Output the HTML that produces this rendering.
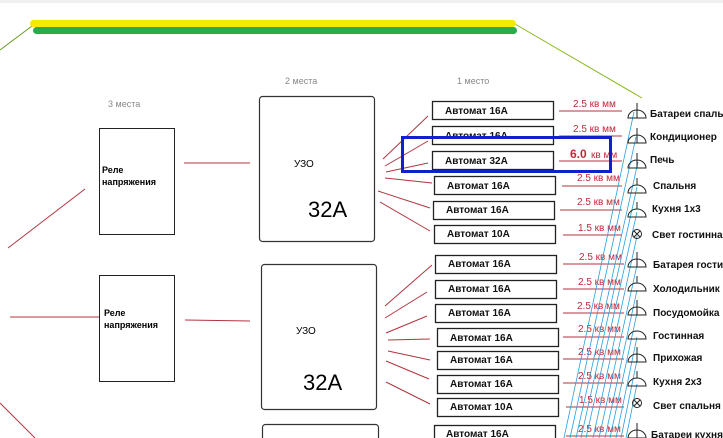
<!DOCTYPE html>
<html><head><meta charset="utf-8"><style>
body{margin:0;background:#fff;}
svg{display:block;font-family:"Liberation Sans","DejaVu Sans",sans-serif;}
.ab{fill:#fff;stroke:#222;stroke-width:1.3}
.at{font-size:10px;font-weight:bold;fill:#111}
.rl{stroke:#b0353f;stroke-width:1;fill:none}
.rt{font-size:10px;fill:#c0283a}
.lb{font-size:10px;font-weight:bold;fill:#111}
.bl{stroke:#2a9fd8;stroke-width:0.8}
.ic{fill:none;stroke:#222;stroke-width:1}
</style></head><body>
<svg width="723" height="438" viewBox="0 0 723 438">
<rect x="0" y="0" width="723" height="3" fill="#eef0f2"/>
<line x1="32" y1="26" x2="0" y2="50" stroke="#6a9a20" stroke-width="1"/>
<line x1="515" y1="24" x2="642" y2="98" stroke="#8ab820" stroke-width="1"/>
<rect x="30" y="20" width="486" height="7" rx="3.5" fill="#f5ea00"/>
<rect x="33" y="27" width="484" height="7" rx="3.5" fill="#2aaa48"/>
<text x="108" y="107" font-size="9" fill="#888">3 места</text>
<text x="285" y="84" font-size="9" fill="#888">2 места</text>
<text x="457" y="84" font-size="9" fill="#888">1 место</text>
<!-- relay boxes -->
<rect x="99.5" y="128.5" width="75" height="106" fill="#fff" stroke="#222"/>
<text x="102" y="173" font-size="9" font-weight="bold">Реле</text>
<text x="102" y="185" font-size="9" font-weight="bold">напряжения</text>
<rect x="99.5" y="275.5" width="75" height="106" fill="#fff" stroke="#222"/>
<text x="104" y="316" font-size="9" font-weight="bold">Реле</text>
<text x="104" y="328" font-size="9" font-weight="bold">напряжения</text>
<!-- UZO -->
<rect x="259.5" y="96.5" width="115" height="145" rx="3" fill="#fff" stroke="#333" stroke-width="1.2"/>
<text x="294" y="167" font-size="10">УЗО</text>
<text x="308" y="217" font-size="22">32A</text>
<rect x="261.5" y="264.5" width="115" height="145" rx="3" fill="#fff" stroke="#333" stroke-width="1.2"/>
<text x="296" y="334" font-size="10">УЗО</text>
<text x="303" y="390" font-size="22">32A</text>
<rect x="262.5" y="424.5" width="116" height="30" rx="3" fill="#fff" stroke="#333" stroke-width="1.2"/>
<!-- red lines left -->
<line class="rl" x1="85" y1="189" x2="8" y2="248"/>
<line class="rl" x1="184" y1="163" x2="250" y2="163"/>
<line class="rl" x1="10" y1="317" x2="99" y2="317"/>
<line class="rl" x1="185" y1="320" x2="250" y2="321"/>
<line class="rl" x1="0" y1="403" x2="35" y2="438"/>
<!-- fan lines -->
<line class="rl" x1="383" y1="159" x2="428" y2="116"/>
<line class="rl" x1="385" y1="166" x2="428" y2="141"/>
<line class="rl" x1="386" y1="172" x2="428" y2="163"/>
<line class="rl" x1="385" y1="178" x2="432" y2="183"/>
<line class="rl" x1="378" y1="191" x2="430" y2="208"/>
<line class="rl" x1="380" y1="202" x2="430" y2="231"/>
<line class="rl" x1="385" y1="306" x2="432" y2="265"/>
<line class="rl" x1="385" y1="318" x2="427" y2="292"/>
<line class="rl" x1="386" y1="333" x2="427" y2="316"/>
<line class="rl" x1="388" y1="340" x2="430" y2="339"/>
<line class="rl" x1="388" y1="351" x2="430" y2="360"/>
<line class="rl" x1="386" y1="361" x2="429" y2="379"/>
<line class="rl" x1="386" y1="382" x2="430" y2="404"/>
<!-- automats -->
<g>
<rect class="ab" x="432.5" y="101.5" width="121" height="18"/><text class="at" x="445" y="114">Автомат 16А</text>
<rect class="ab" x="432.5" y="126.5" width="121" height="18"/><text class="at" x="445" y="139">Автомат 16А</text>
<rect class="ab" x="432.5" y="151.5" width="121" height="18"/><text class="at" x="445" y="164">Автомат 32А</text>
<rect class="ab" x="434.5" y="176.5" width="121" height="18"/><text class="at" x="447" y="189">Автомат 16А</text>
<rect class="ab" x="433.5" y="201.5" width="121" height="18"/><text class="at" x="446" y="213">Автомат 16А</text>
<rect class="ab" x="434.5" y="225.5" width="121" height="18"/><text class="at" x="447" y="237">Автомат 10А</text>
<rect class="ab" x="435.5" y="255.5" width="121" height="18"/><text class="at" x="448" y="267">Автомат 16А</text>
<rect class="ab" x="435.5" y="280.5" width="121" height="18"/><text class="at" x="448" y="292">Автомат 16А</text>
<rect class="ab" x="435.5" y="304.5" width="121" height="18"/><text class="at" x="448" y="316">Автомат 16А</text>
<rect class="ab" x="437.5" y="328.5" width="121" height="18"/><text class="at" x="450" y="341">Автомат 16А</text>
<rect class="ab" x="437.5" y="351.5" width="121" height="18"/><text class="at" x="450" y="363">Автомат 16А</text>
<rect class="ab" x="437.5" y="375.5" width="121" height="18"/><text class="at" x="450" y="387">Автомат 16А</text>
<rect class="ab" x="437.5" y="398.5" width="121" height="18"/><text class="at" x="450" y="410">Автомат 10А</text>
<rect class="ab" x="434.5" y="425.5" width="121" height="18"/><text class="at" x="446" y="437">Автомат 16А</text>
</g>
<!-- wires red -->
<g>
<line class="rl" x1="559" y1="111" x2="622" y2="111"/><text class="rt" x="573" y="107">2.5 кв мм</text>
<line class="rl" x1="559" y1="136" x2="622" y2="136"/><text class="rt" x="573" y="132">2.5 кв мм</text>
<line class="rl" x1="559" y1="161" x2="622" y2="161"/><text x="570" y="158" font-size="12" fill="#c0283a" font-weight="bold">6.0</text><text class="rt" x="591" y="158" font-size="9">кв мм</text>
<line class="rl" x1="562" y1="186" x2="622" y2="186"/><text class="rt" x="577" y="181">2.5 кв мм</text>
<line class="rl" x1="560" y1="210" x2="622" y2="210"/><text class="rt" x="577" y="205">2.5 кв мм</text>
<line class="rl" x1="563" y1="235" x2="622" y2="235"/><text class="rt" x="578" y="231">1.5 кв мм</text>
<line class="rl" x1="563" y1="264" x2="624" y2="264"/><text class="rt" x="579" y="260">2.5 кв мм</text>
<line class="rl" x1="563" y1="289" x2="624" y2="289"/><text class="rt" x="578" y="285">2.5 кв мм</text>
<line class="rl" x1="563" y1="313" x2="624" y2="313"/><text class="rt" x="577" y="309">2.5 кв мм</text>
<line class="rl" x1="563" y1="337" x2="624" y2="337"/><text class="rt" x="578" y="332">2.5 кв мм</text>
<line class="rl" x1="563" y1="359" x2="624" y2="359"/><text class="rt" x="578" y="355">2.5 кв мм</text>
<line class="rl" x1="563" y1="383" x2="624" y2="383"/><text class="rt" x="578" y="379">2.5 кв мм</text>
<line class="rl" x1="566" y1="407" x2="624" y2="407"/><text class="rt" x="579" y="403">1.5 кв мм</text>
<line class="rl" x1="566" y1="436" x2="624" y2="436"/><text class="rt" x="578" y="432">2.5 кв мм</text>
</g>
<!-- blue lines -->
<g class="bl">
<line x1="634" y1="112" x2="564" y2="438"/>
<line x1="636" y1="137" x2="570" y2="438"/>
<line x1="638" y1="162" x2="576" y2="438"/>
<line x1="637" y1="187" x2="581" y2="438"/>
<line x1="637" y1="212" x2="586" y2="438"/>
<line x1="637" y1="236" x2="593" y2="438"/>
<line x1="637" y1="265" x2="599" y2="438"/>
<line x1="637" y1="290" x2="605" y2="438"/>
<line x1="637" y1="313" x2="610" y2="438"/>
<line x1="637" y1="337" x2="616" y2="438"/>
<line x1="637" y1="360" x2="621" y2="438"/>
<line x1="637" y1="384" x2="626" y2="438"/>
</g>
<!-- icons -->
<g class="ic">
<path d="M628 118a9 8 0 0 1 18 0z M637 103v15"/>
<path d="M628 143a9 8 0 0 1 18 0z M637 128v15"/>
<path d="M628 168a9 8 0 0 1 18 0z M637 153v15"/>
<path d="M628 193a9 8 0 0 1 18 0z M637 178v7"/>
<path d="M628 217a9 8 0 0 1 18 0z M637 202v7"/>
<circle cx="637" cy="234" r="4.5"/><path d="M634 231l6 6M640 231l-6 6"/>
<path d="M628 267a9 8 0 0 1 18 0z M637 252v15"/>
<path d="M628 291a9 8 0 0 1 18 0z M637 276v7"/>
<path d="M628 315a9 8 0 0 1 18 0z M637 300v15"/>
<path d="M628 339a9 8 0 0 1 18 0z"/>
<path d="M628 362a9 8 0 0 1 18 0z M637 347v15"/>
<path d="M628 386a9 8 0 0 1 18 0z M637 371v7"/>
<circle cx="637" cy="403" r="4.5"/><path d="M634 400l6 6M640 400l-6 6"/>
<path d="M628 438a9 8 0 0 1 18 0z M637 423v15"/>
</g>
<g class="lb">
<text x="650" y="117">Батареи спальня</text>
<text x="650" y="140">Кондиционер</text>
<text x="650" y="163">Печь</text>
<text x="653" y="189">Спальня</text>
<text x="652" y="212">Кухня 1х3</text>
<text x="652" y="238">Свет гостинная</text>
<text x="653" y="268">Батарея гостинная</text>
<text x="653" y="292">Холодильник</text>
<text x="653" y="316">Посудомойка</text>
<text x="653" y="339">Гостинная</text>
<text x="653" y="361">Прихожая</text>
<text x="653" y="385">Кухня 2х3</text>
<text x="653" y="409">Свет спальня</text>
<text x="651" y="438">Батареи кухня</text>
</g>
<!-- blue highlight -->
<rect x="402.5" y="137.5" width="208" height="34" fill="none" stroke="#1020d0" stroke-width="3"/>
</svg>
</body></html>
